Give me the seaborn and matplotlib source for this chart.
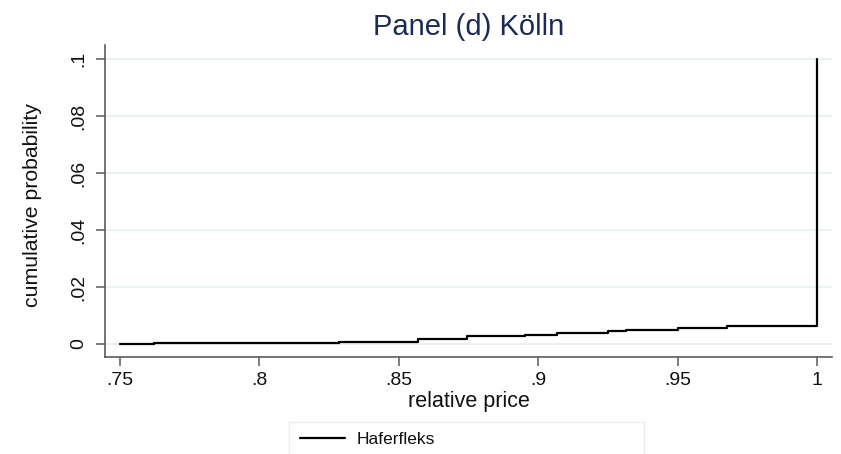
import matplotlib
matplotlib.use("Agg")
import matplotlib.pyplot as plt
import numpy as np
import pandas as pd
import seaborn as sns

# ---- data ----
rel_price = [0.75, 0.7623, 0.8284, 0.8569, 0.8745, 0.8951, 0.9068,
             0.925, 0.9316, 0.9503, 0.9676, 1.0]
cum_prob = [0.00003, 0.0002, 0.0008, 0.0016, 0.0028, 0.0033, 0.0038,
            0.0046, 0.0050, 0.0055, 0.0064, 0.1]
series_name = "Haferfleks"

x_ticks = [0.75, 0.8, 0.85, 0.9, 0.95, 1.0]
x_tick_labels = [".75", ".8", ".85", ".9", ".95", "1"]
y_ticks = [0.0, 0.02, 0.04, 0.06, 0.08, 0.1]
y_tick_labels = ["0", ".02", ".04", ".06", ".08", ".1"]

title = "Panel (d) Kölln"
x_label = "relative price"
y_label = "cumulative probability"

# ---- style ----
sns.set_theme(style="white")
plt.rcParams["font.family"] = ["Liberation Sans", "DejaVu Sans"]

W, H = 841, 454
fig = plt.figure(figsize=(W / 100, H / 100), dpi=100)
fig.patch.set_facecolor("white")
ax = fig.add_axes([105 / W, 1 - 357 / H, 727 / W, 312 / H])

df = pd.DataFrame({"x": rel_price, "y": cum_prob})
sns.lineplot(data=df, x="x", y="y", color="black", lw=1.6,
             drawstyle="steps-post", estimator=None, sort=True,
             label=series_name, ax=ax)

ax.set_xlim(0.74462, 1.00538)
ax.set_ylim(-0.00456, 0.10491)

ax.set_xticks(x_ticks)
ax.set_xticklabels(x_tick_labels)
ax.set_yticks(y_ticks)
ax.set_yticklabels(y_tick_labels, rotation=90, va="center")

ax.yaxis.grid(True, color="#eaf2f3", lw=1.5)
ax.xaxis.grid(False)
ax.set_axisbelow(True)

for s in ["top", "right"]:
    ax.spines[s].set_visible(False)
for s in ["left", "bottom"]:
    ax.spines[s].set_color("#5a5a5a")
    ax.spines[s].set_linewidth(1.2)

ax.tick_params(axis="both", direction="out", length=6.5, width=1.1,
               color="#5a5a5a", labelsize=14, labelcolor="#111111",
               bottom=True, left=True)
ax.tick_params(axis="y", pad=6)
ax.tick_params(axis="x", pad=4)

ax.set_title(title, fontsize=21, color="#1c2b53", pad=7.5)
ax.set_xlabel(x_label, fontsize=15.5, color="#111111")
ax.xaxis.set_label_coords(0.5, -0.109)
ax.set_ylabel(y_label, fontsize=15.3, color="#111111")
ax.yaxis.set_label_coords(-0.0867, 0.487)

leg = ax.legend(loc="upper left",
                bbox_to_anchor=(289.3 / W, 1 - 421.7 / H, 355 / W, 0.0),
                bbox_transform=fig.transFigure, mode="expand",
                fontsize=12.5, frameon=True, fancybox=False,
                edgecolor="#e3eaee", facecolor="white",
                handlelength=2.6, handletextpad=0.7, borderpad=0.6,
                borderaxespad=0)
leg.get_frame().set_linewidth(1.0)
for t in leg.get_texts():
    t.set_color("#111111")

fig.savefig("out.png", dpi=100, facecolor="white")
